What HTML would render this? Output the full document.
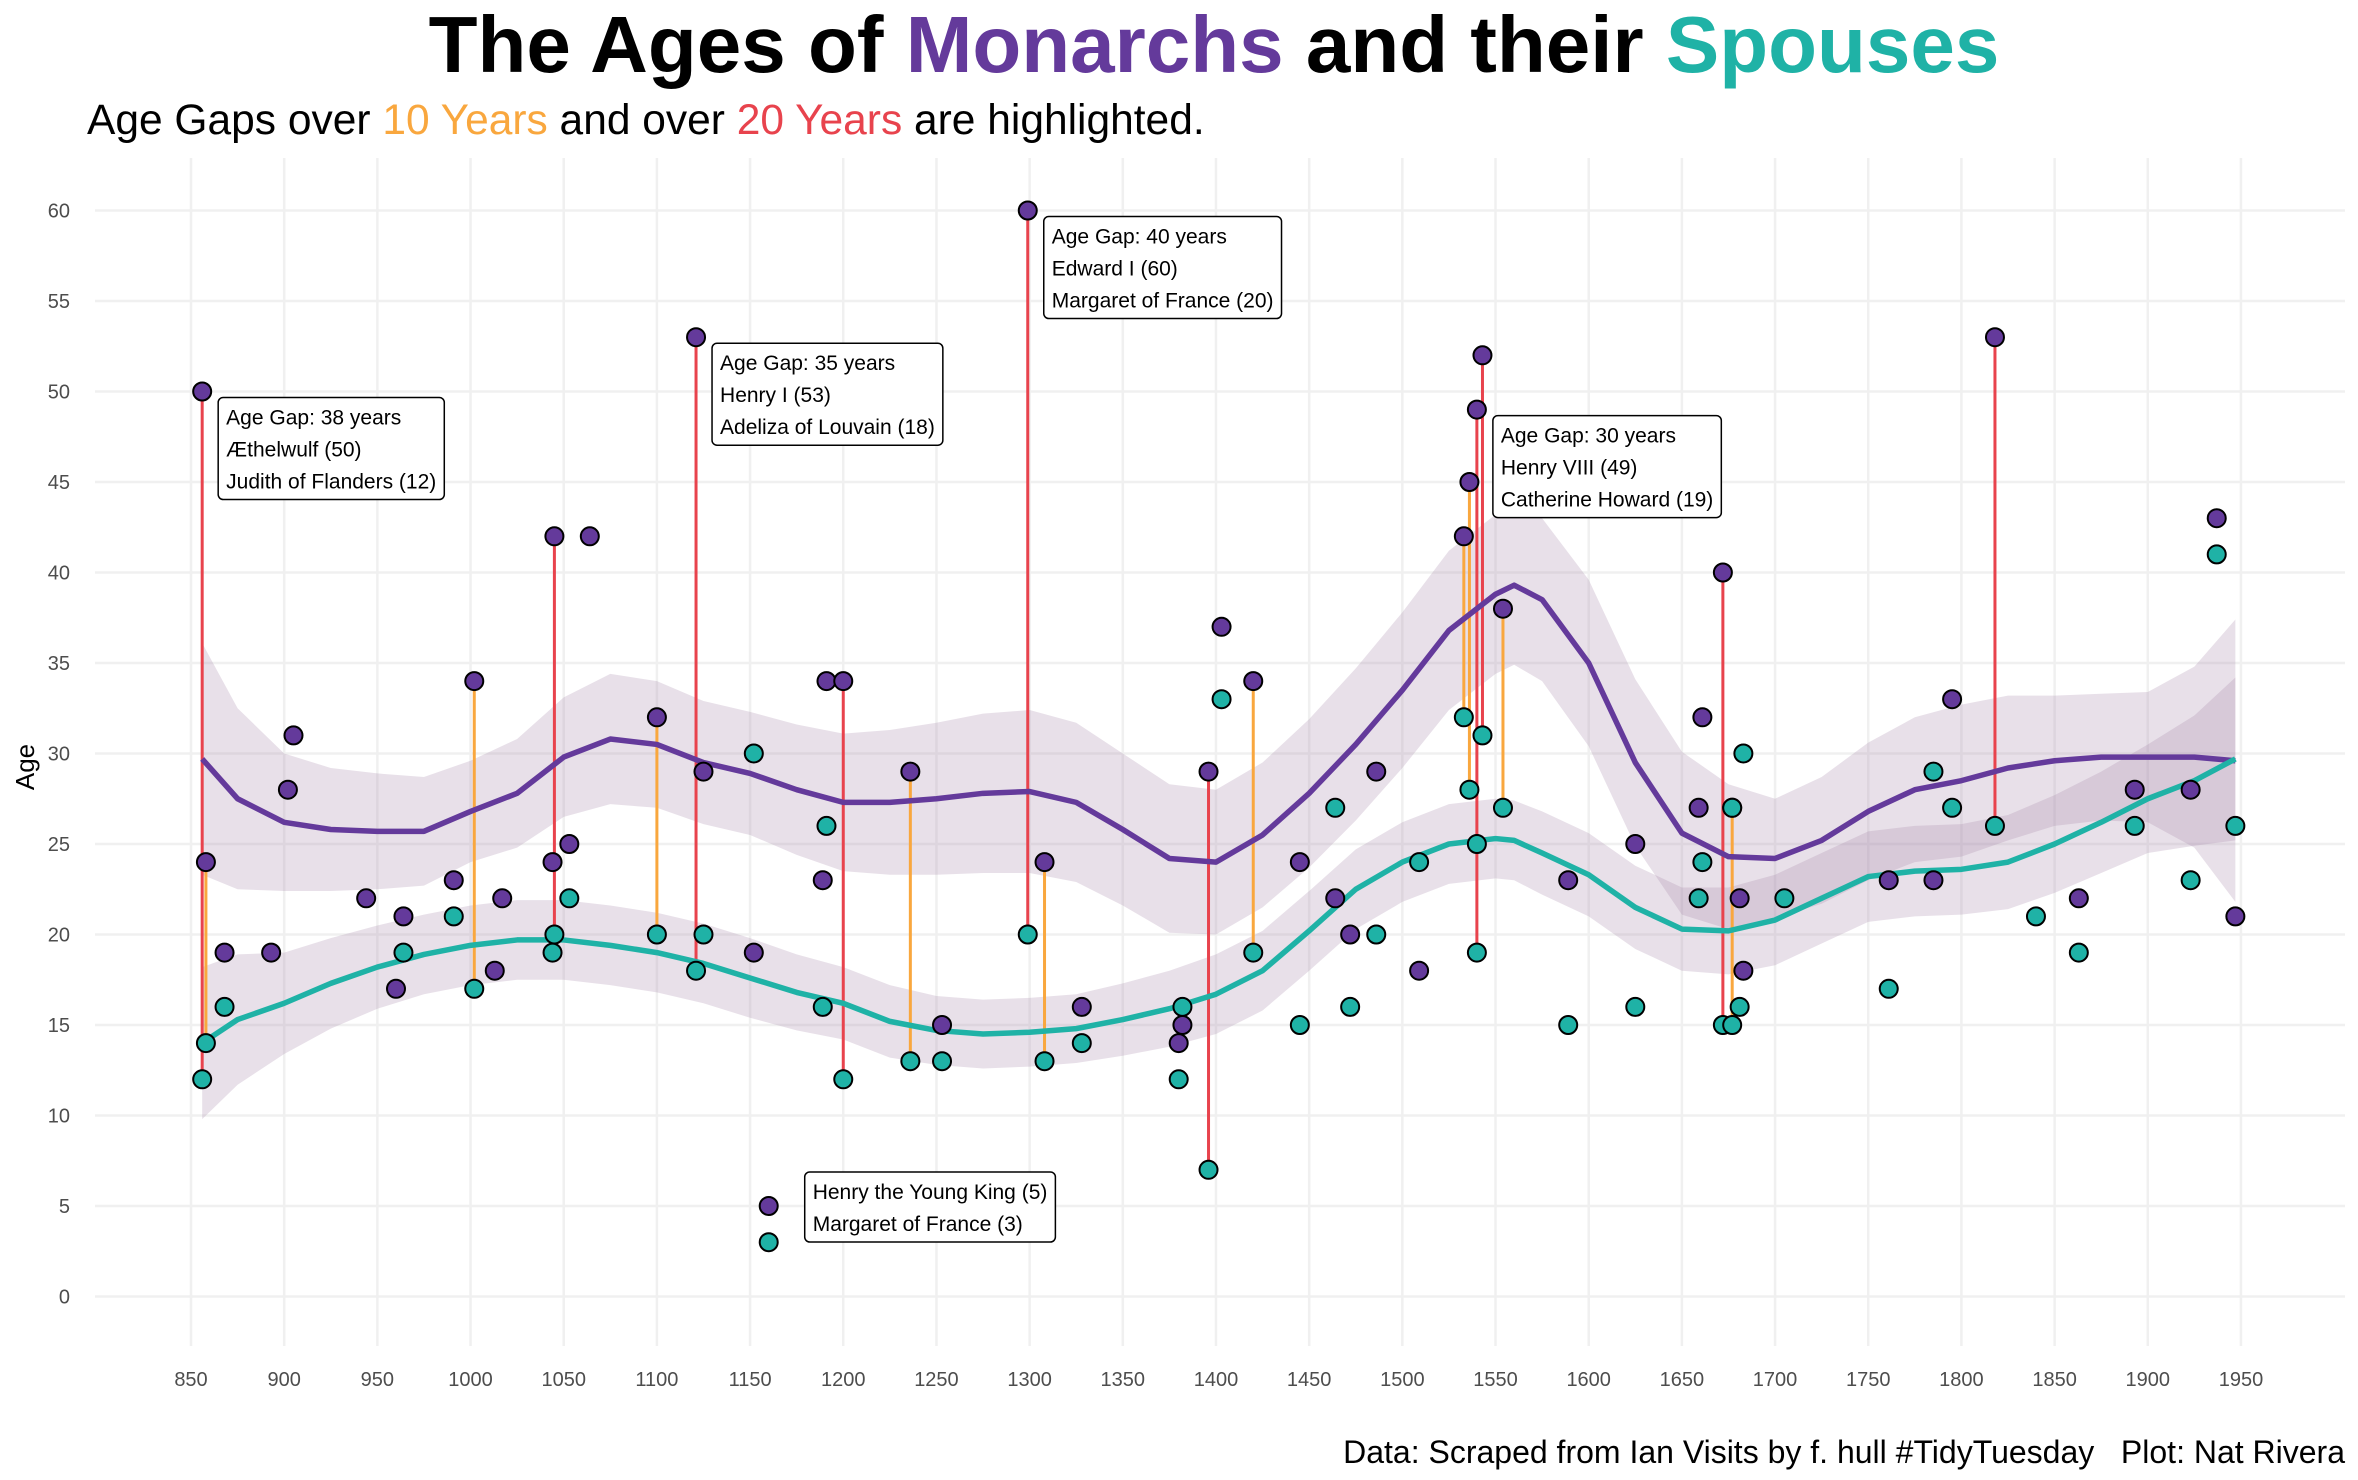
<!DOCTYPE html>
<html><head><meta charset="utf-8"><style>
html,body{margin:0;padding:0;background:#fff;}
svg{display:block;font-family:"Liberation Sans",Arial,sans-serif;}
</style></head><body>
<svg id="chart" width="2358" height="1480" viewBox="0 0 2358 1480" xmlns="http://www.w3.org/2000/svg">
<rect width="2358" height="1480" fill="#fff"/>
<text x="1214" y="72" text-anchor="middle" font-size="80" font-weight="bold" fill="#000">The Ages of <tspan fill="#643a9b">Monarchs</tspan> and their <tspan fill="#1fb2a6">Spouses</tspan></text>
<text x="87" y="134" font-size="42.5" fill="#000">Age Gaps over <tspan fill="#f9a73e">10 Years</tspan> and over <tspan fill="#e8434d">20 Years</tspan> are highlighted.</text>
<text transform="translate(34,767) rotate(-90)" text-anchor="middle" font-size="26" fill="#000">Age</text>
<text x="2345" y="1463" text-anchor="end" font-size="32" fill="#000" style="white-space:pre" xml:space="preserve">Data: Scraped from Ian Visits by f. hull #TidyTuesday   Plot: Nat Rivera</text>
<g id="grid"></g><g id="bands"></g><g id="segs"></g><g id="curves"></g><g id="pts"></g><g id="labels"></g>
</svg>
<script>
// data
const recYears = [856,858,868,893,902,905,944,960,964,991,1002,1013,1017,1044,1045,1053,1064,1100,1121,1125,1152,1160,1189,1191,1200,1236,1253,1299,1308,1328,1380,1382,1396,1403,1420,1445,1464,1472,1486,1509,1533,1536,1540,1540,1543,1554,1589,1625,1659,1661,1672,1677,1677,1681,1683,1705,1761,1785,1795,1818,1840,1863,1893,1923,1937,1947];
const monarchAges = [50,24,19,19,28,31,22,17,21,23,34,18,22,24,42,25,42,32,53,29,19,5,23,34,34,29,15,60,24,16,14,15,29,37,34,24,22,20,29,18,42,45,49,null,52,38,23,25,27,32,40,27,null,22,18,null,23,23,33,53,null,22,28,28,43,21];
const spouseAges = [12,14,16,null,null,null,null,null,19,21,17,null,null,19,20,22,null,20,18,20,30,3,16,26,12,13,13,20,13,14,12,16,7,33,19,15,27,16,20,24,32,28,19,25,31,27,15,16,22,24,15,15,27,16,30,22,17,29,27,26,21,19,26,23,41,26];
const curveYears = [856,875,900,925,950,975,1000,1025,1050,1075,1100,1125,1150,1175,1200,1225,1250,1275,1300,1325,1350,1375,1400,1425,1450,1475,1500,1525,1550,1560,1575,1600,1625,1650,1675,1700,1725,1750,1775,1800,1825,1850,1875,1900,1925,1947];
const monarchFit = [29.7,27.5,26.2,25.8,25.7,25.7,26.8,27.8,29.8,30.8,30.5,29.5,28.9,28.0,27.3,27.3,27.5,27.8,27.9,27.3,25.8,24.2,24.0,25.5,27.8,30.5,33.5,36.8,38.8,39.3,38.5,35.0,29.5,25.6,24.3,24.2,25.2,26.8,28.0,28.5,29.2,29.6,29.8,29.8,29.8,29.6];
const monarchSE = [6.4,5.0,3.8,3.4,3.2,3.0,2.8,3.0,3.3,3.6,3.5,3.4,3.4,3.6,3.8,4.0,4.2,4.4,4.5,4.4,4.2,4.1,4.0,4.0,4.1,4.2,4.3,4.4,4.4,4.4,4.5,4.6,4.6,4.5,4.0,3.3,3.5,3.8,4.0,4.2,4.0,3.6,3.5,3.6,5.0,7.8];
const spouseFit = [14.0,15.3,16.2,17.3,18.2,18.9,19.4,19.7,19.7,19.4,19.0,18.4,17.6,16.8,16.2,15.2,14.7,14.5,14.6,14.8,15.3,15.9,16.7,18.0,20.2,22.5,24.0,25.0,25.3,25.2,24.5,23.3,21.5,20.3,20.2,20.8,22.0,23.2,23.5,23.6,24.0,25.0,26.2,27.5,28.5,29.7];
const spouseSE = [4.2,3.6,2.8,2.5,2.3,2.2,2.2,2.2,2.2,2.2,2.2,2.2,2.2,2.1,2.0,2.0,1.9,1.9,1.9,1.9,2.0,2.1,2.2,2.2,2.2,2.2,2.2,2.2,2.2,2.2,2.3,2.3,2.3,2.3,2.4,2.5,2.5,2.5,2.5,2.5,2.6,2.7,2.8,3.0,3.6,4.5];
const xTicks = [850,900,950,1000,1050,1100,1150,1200,1250,1300,1350,1400,1450,1500,1550,1600,1650,1700,1750,1800,1850,1900,1950];
const yTicks = [0,5,10,15,20,25,30,35,40,45,50,55,60];
const annoYears = [856,1121,1299,1540,1160];
const annoAges = [50,53,60,49,5];
const annoText = [["Age Gap: 38 years","Æthelwulf (50)","Judith of Flanders (12)"],["Age Gap: 35 years","Henry I (53)","Adeliza of Louvain (18)"],["Age Gap: 40 years","Edward I (60)","Margaret of France (20)"],["Age Gap: 30 years","Henry VIII (49)","Catherine Howard (19)"],["Henry the Young King (5)","Margaret of France (3)"]];

const X = yr => 191 + (yr - 850) * 1.8636;
const Y = v => 1296.5 - v * 18.1;
const NS = "http://www.w3.org/2000/svg";
function mk(tag, attrs, parent){ const e=document.createElementNS(NS,tag); for(const k in attrs) e.setAttribute(k,attrs[k]); parent.appendChild(e); return e; }
const grid=document.getElementById('grid'), bands=document.getElementById('bands'), segs=document.getElementById('segs'), curves=document.getElementById('curves'), pts=document.getElementById('pts'), labels=document.getElementById('labels');

yTicks.forEach(v=>{
  const l=mk('line',{x1:95,x2:2345,y1:Y(v),y2:Y(v),stroke:'#f0f0f0','stroke-width':2.5},grid);
  
  
  const t=mk('text',{x:70,y:Y(v)+7,'text-anchor':'end','font-size':20,fill:'#4d4d4d'},grid);
  t.textContent=v;
  
  
});
xTicks.forEach(v=>{
  const l=mk('line',{x1:X(v),x2:X(v),y1:158,y2:1346,stroke:'#f0f0f0','stroke-width':2.5},grid);
  
  
  const t=mk('text',{x:X(v),y:1386,'text-anchor':'middle','font-size':20,fill:'#4d4d4d'},grid);
  t.textContent=v;
  
  
});

function band(fit,se,name){
  let up=curveYears.map((y,i)=>X(y)+','+Y(fit[i]+se[i]));
  let lo=curveYears.map((y,i)=>X(y)+','+Y(fit[i]-se[i])).reverse();
  const p=mk('polygon',{points:up.concat(lo).join(' '),fill:'#a483a8','fill-opacity':0.25},bands);
  
  
}
band(monarchFit,monarchSE,'monarch-confidence-band');
band(spouseFit,spouseSE,'spouse-confidence-band');

recYears.forEach((yr,i)=>{
  const m=monarchAges[i], s=spouseAges[i];
  if(m==null||s==null) return;
  const g=m-s;
  if(g>=10){
    const l=mk('line',{x1:X(yr),x2:X(yr),y1:Y(m),y2:Y(s),stroke:g>20?'#e8434d':'#f9a73e','stroke-width':3},segs);
    
    
  }
});

function curve(fit,color,name){
  const p=mk('polyline',{points:curveYears.map((y,i)=>X(y)+','+Y(fit[i])).join(' '),fill:'none',stroke:color,'stroke-width':5.5,'stroke-linejoin':'round'},curves);
  
  
}
curve(monarchFit,'#643a9b','monarch-trend-line');
curve(spouseFit,'#1fb2a6','spouse-trend-line');

recYears.forEach((yr,i)=>{
  const m=monarchAges[i];
  if(m==null) return;
  const c=mk('circle',{cx:X(yr),cy:Y(m),r:9,fill:'#643a9b',stroke:'#000','stroke-width':2},pts);
  
  
});
recYears.forEach((yr,i)=>{
  const s=spouseAges[i];
  if(s==null) return;
  const c=mk('circle',{cx:X(yr),cy:Y(s),r:9,fill:'#1fb2a6',stroke:'#000','stroke-width':2},pts);
  
  
});

annoYears.forEach((yr,i)=>{
  const lines=annoText[i];
  const x0=X(yr)+(lines.length===3?16:36), yTop=Y(annoAges[i])+ (lines.length===3?6:-34);
  const g=mk('g',{},labels);
  
  
  const r=mk('rect',{x:x0,y:yTop,width:10,height:lines.length*32+6,rx:5,fill:'#fff',stroke:'#000','stroke-width':1.5},g);
  let maxW=0;
  lines.forEach((t,j)=>{
    const tx=mk('text',{x:x0+8,y:yTop+27+j*32,'font-size':21,fill:'#000'},g);
    tx.textContent=t;
    maxW=Math.max(maxW,tx.getComputedTextLength());
  });
  r.setAttribute('width',maxW+16);
});
</script>
</body></html>
